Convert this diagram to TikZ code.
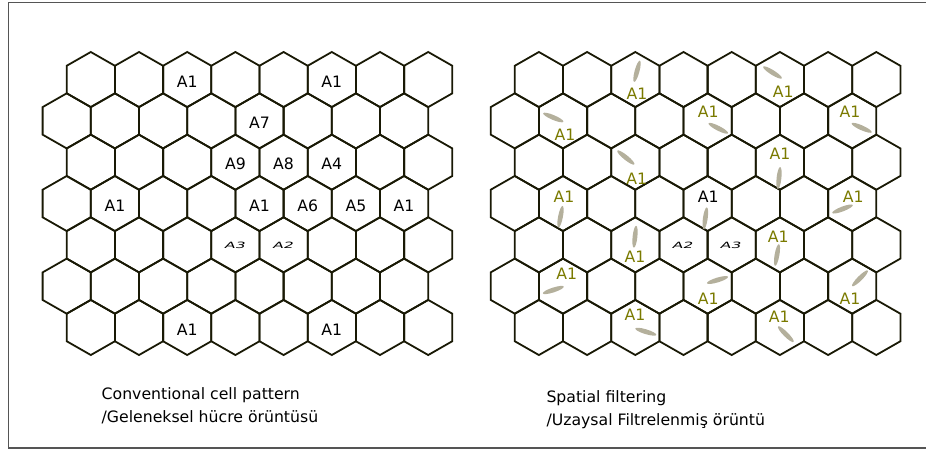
\documentclass[tikz,border=0pt]{standalone}
\usepackage{fontspec}
\setmainfont{DejaVu Sans}
\usetikzlibrary{shapes.geometric}
\definecolor{hexdark}{RGB}{25,25,5}
\definecolor{olivetxt}{RGB}{122,122,0}
\definecolor{beamgray}{RGB}{180,176,156}
\definecolor{framegray}{RGB}{85,85,85}

\begin{document}
\begin{tikzpicture}[x=1pt, y=-1pt,
  hex/.style={draw=hexdark, line width=1.8pt, line join=miter},
  cell/.style={font=\fontsize{15.7}{18}\selectfont, inner sep=0pt},
  sector/.style={cell, text=olivetxt},
  squash/.style={cell, yscale=0.55, xslant=0.15},
  beam/.style={ellipse, fill=beamgray, minimum width=22pt, minimum height=4.8pt, inner sep=0pt},
  caption/.style={font=\fontsize{15.7}{18}\selectfont, anchor=base west, inner sep=0pt},
]
\def\hexw{48.2}     % cell width
\def\hexs{27.55}    % cell side
\def\rowgap{41.32}  % row to row
\def\rowy{79.55}    % first row centre

\useasboundingbox (0,0) rectangle (926,450);
\draw[framegray, line width=1.8pt] (926,2.5) -- (8.5,2.5) -- (8.5,448) -- (926,448);

% both grids
\foreach \gx in {90.8,538.9}{
  \foreach \r in {0,...,6}{
    \foreach \c in {0,...,7}{
      \pgfmathsetmacro\cx{\gx+\c*\hexw-mod(\r,2)*\hexw/2}
      \pgfmathsetmacro\cy{\rowy+\r*\rowgap}
      \draw[hex] (\cx,\cy) ++(0,-\hexs) -- ++({\hexw/2},{\hexs/2}) -- ++(0,\hexs)
        -- ++({-\hexw/2},{\hexs/2}) -- ++({-\hexw/2},{-\hexs/2}) -- ++(0,-\hexs) -- cycle;
    }
  }
}

% conventional pattern
\foreach \c/\r/\t in {3/1/A1, 6/1/A1, 5/2/A7, 4/3/A9, 5/3/A8, 6/3/A4,
                      2/4/A1, 5/4/A1, 6/4/A6, 7/4/A5, 8/4/A1, 3/7/A1, 6/7/A1}{
  \pgfmathsetmacro\cx{90.8+(\c-1)*\hexw-mod(\r-1,2)*\hexw/2}
  \pgfmathsetmacro\cy{\rowy+(\r-1)*\rowgap+2}
  \node[cell] (L\c\r) at (\cx,\cy) {\t};
}
\node[squash] (L45) at (235.4,245.6) {A3};
\node[squash] (L55) at (283.6,245.6) {A2};

% spatial filtering
\foreach \i/\tx/\ty/\bx/\by/\ba in {
    1/637/94/637/71.3/75,       2/565/135/553.3/117.5/-23,
    3/783.3/91.7/772.5/72.5/-32, 4/708.3/111.7/718.3/128.3/-27,
    5/850/111.7/861.7/127.8/-24, 6/636.7/178.3/625.8/157.5/-39,
    7/564/196.7/560.5/216.7/79,  8/780/153.3/779/178/84,
    10/853.3/196.7/842.5/209/21, 11/635/256.7/635/236.7/84,
    12/778.3/236.7/777/255/80,   13/566.7/273.3/553.3/290/18,
    14/708.3/298.3/717.5/280/17, 15/850/298.3/860/278.3/45,
    16/635/315/645.8/331.7/-17,  17/779.3/316.7/785.8/334.2/-45}{
  \node[beam, rotate=\ba] (b\i) at (\bx,\by) {};
  \node[sector] (s\i) at (\tx,\ty) {A1};
}
\node[beam, rotate=82] (b9) at (705.3,218.3) {};
\node[cell] (s9) at (708.3,196.7) {A1};
\node[squash] (R45) at (683.1,245.6) {A2};
\node[squash] (R55) at (731.2,245.6) {A3};

\node[caption] (capL1) at (101.5,399.5) {Conventional cell pattern};
\node[caption] (capL2) at (101.5,422.5) {/Geleneksel hücre örüntüsü};
\node[caption] (capR1) at (546.3,402) {Spatial filtering};
\node[caption] (capR2) at (546.3,425) {/Uzaysal Filtrelenmiş örüntü};
\end{tikzpicture}
\end{document}
